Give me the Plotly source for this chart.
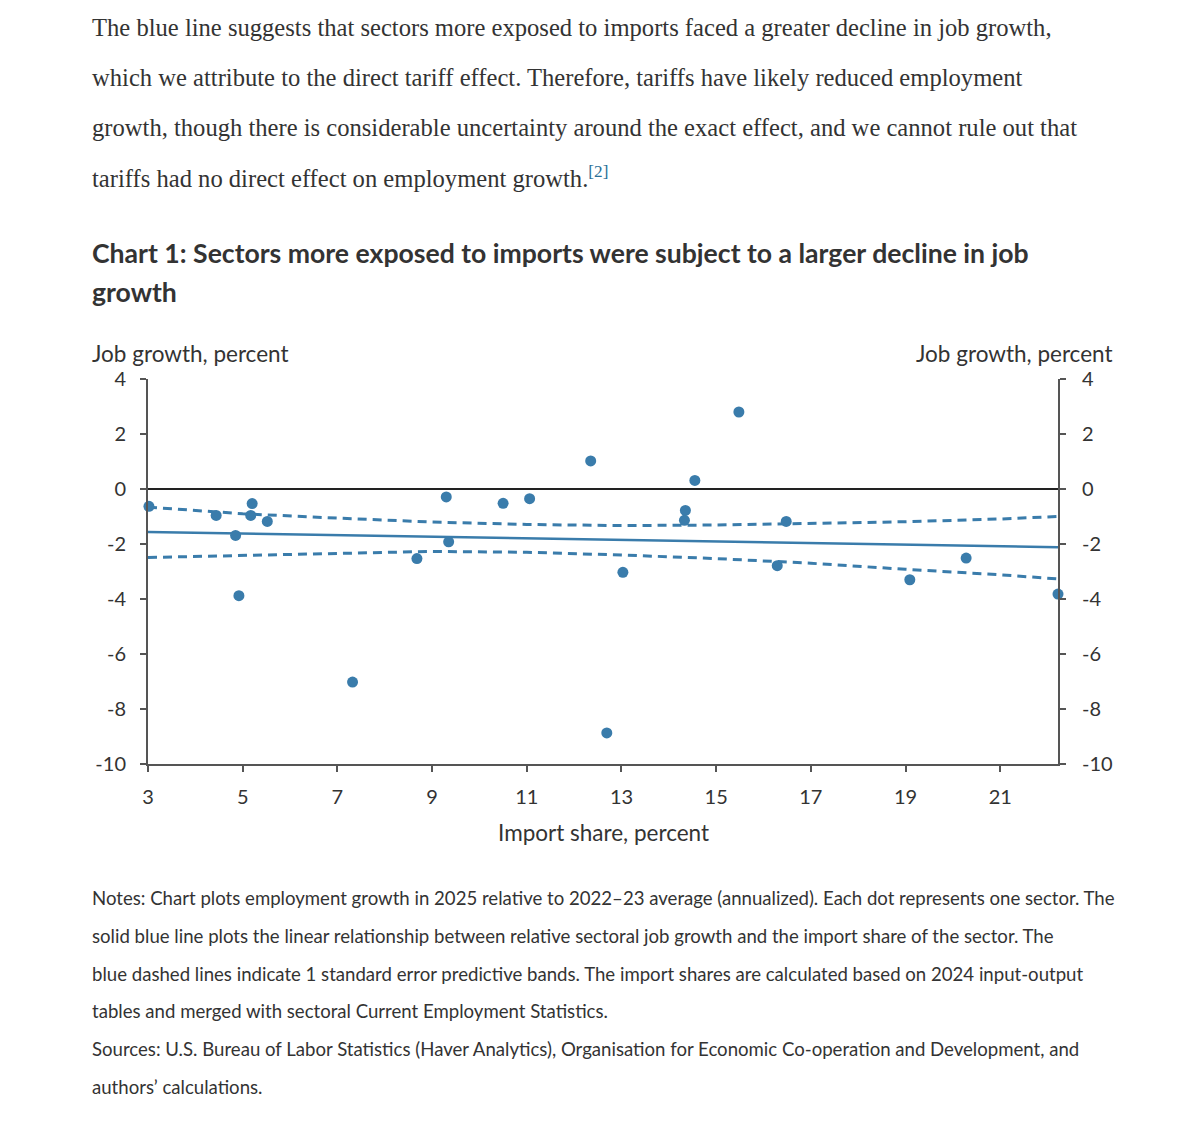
import plotly.graph_objects as go

# ---- data ----
import_share = [3.02, 4.44, 4.85, 4.92, 5.17, 5.20, 5.52, 7.32, 8.68, 9.30, 9.35,
                10.50, 11.06, 12.35, 12.69, 13.03, 14.33, 14.35, 14.55, 15.48,
                16.29, 16.48, 19.09, 20.28, 22.22]
job_growth = [-0.63, -0.96, -1.69, -3.88, -0.96, -0.53, -1.18, -7.02, -2.53, -0.29, -1.92,
              -0.52, -0.35, 1.02, -8.87, -3.03, -1.14, -0.78, 0.31, 2.80,
              -2.79, -1.18, -3.30, -2.51, -3.82]

fit_x = [3, 22.22]
fit_y = [-1.56, -2.12]

band_x = [3, 5, 7, 9, 11, 13, 15, 17, 19, 21, 22.22]
band_upper = [-0.66, -0.90, -1.06, -1.20, -1.29, -1.33, -1.31, -1.26, -1.19, -1.09, -1.00]
band_lower = [-2.49, -2.41, -2.34, -2.27, -2.30, -2.40, -2.53, -2.70, -2.92, -3.12, -3.27]

x_ticks = [3, 5, 7, 9, 11, 13, 15, 17, 19, 21]
y_ticks = [-10, -8, -6, -4, -2, 0, 2, 4]
y_tick_text = ["-10", "-8", "-6", "-4", "-2", "0", "2", "4"]

paragraph = [
    "The blue line suggests that sectors more exposed to imports faced a greater decline in job growth,",
    "which we attribute to the direct tariff effect. Therefore, tariffs have likely reduced employment",
    "growth, though there is considerable uncertainty around the exact effect, and we cannot rule out that",
    "tariffs had no direct effect on employment growth.<sup><span style='color:#2a6f97'>[2]</span></sup>",
]
title_lines = [
    "Chart 1: Sectors more exposed to imports were subject to a larger decline in job",
    "growth",
]
notes = [
    "Notes: Chart plots employment growth in 2025 relative to 2022–23 average (annualized). Each dot represents one sector. The",
    "solid blue line plots the linear relationship between relative sectoral job growth and the import share of the sector. The",
    "blue dashed lines indicate 1 standard error predictive bands. The import shares are calculated based on 2024 input-output",
    "tables and merged with sectoral Current Employment Statistics.",
    "Sources: U.S. Bureau of Labor Statistics (Haver Analytics), Organisation for Economic Co-operation and Development, and",
    "authors’ calculations.",
]

# ---- layout geometry (page has an 8px body margin) ----
OFF = 8
W, H = 1200, 1122
L, T = 148 - OFF, 379 - OFF
R = W - (1058 - OFF)
B = H - (764 - OFF)
PW, PH = W - L - R, H - T - B

def px(x):
    return (x - OFF - L) / PW

def py(y):
    return 1 - (y - OFF - T) / PH

BLUE = "#3a7cab"
TXT = "#333333"

fig = go.Figure()

fig.add_trace(go.Scatter(x=band_x, y=band_upper, mode="lines",
                         line=dict(color=BLUE, width=3, dash="9px,6px"),
                         hoverinfo="skip", showlegend=False, cliponaxis=False))
fig.add_trace(go.Scatter(x=band_x, y=band_lower, mode="lines",
                         line=dict(color=BLUE, width=3, dash="9px,6px"),
                         hoverinfo="skip", showlegend=False, cliponaxis=False))
fig.add_trace(go.Scatter(x=fit_x, y=fit_y, mode="lines",
                         line=dict(color=BLUE, width=2.5),
                         hoverinfo="skip", showlegend=False, cliponaxis=False))
fig.add_trace(go.Scatter(x=import_share, y=job_growth, mode="markers",
                         marker=dict(color=BLUE, size=11),
                         showlegend=False, cliponaxis=False))
# invisible trace for right axis
fig.add_trace(go.Scatter(x=[3], y=[0], yaxis="y2", mode="markers",
                         marker=dict(opacity=0), hoverinfo="skip", showlegend=False))

tickfont = dict(family="Lato, 'Liberation Sans', sans-serif", size=20, color=TXT)
axis_common = dict(showgrid=False, showline=True, linecolor="#555555", linewidth=2,
                   ticks="outside", ticklen=6, tickwidth=1.5, tickcolor="#555555",
                   tickfont=tickfont)

fig.update_layout(
    width=W, height=H,
    margin=dict(l=L, r=R, t=T, b=B),
    paper_bgcolor="white", plot_bgcolor="white",
    xaxis=dict(range=[3, 22.22], tickvals=x_ticks, zeroline=False,
               ticklabelstandoff=8, **axis_common),
    yaxis=dict(range=[-10, 4], tickvals=y_ticks, ticktext=y_tick_text,
               zeroline=True, zerolinecolor="#222222", zerolinewidth=1.5,
               ticklabelstandoff=10, **axis_common),
    yaxis2=dict(range=[-10, 4], tickvals=y_ticks, ticktext=y_tick_text,
                overlaying="y", side="right", zeroline=False,
                ticklabelstandoff=12, **axis_common),
)

ann = []
serif = "'Liberation Serif', 'DejaVu Serif', serif"
for i, line in enumerate(paragraph):
    ann.append(dict(text=line, x=px(90), y=py(27 + 50 * i), xanchor="left", yanchor="middle",
                    font=dict(family=serif, size=24.6, color=TXT)))
for i, line in enumerate(title_lines):
    ann.append(dict(text="<b>" + line + "</b>", x=px(90), y=py(253 + 39 * i), xanchor="left",
                    yanchor="middle",
                    font=dict(family="Lato, 'Noto Sans', sans-serif", size=26.6, color=TXT)))
lab_font = dict(family="Lato, 'Liberation Sans', sans-serif", size=22.5, color=TXT)
ann.append(dict(text="Job growth, percent", x=px(90), y=py(353), xanchor="left",
                yanchor="middle", font=lab_font))
ann.append(dict(text="Job growth, percent", x=px(1115), y=py(353), xanchor="right",
                yanchor="middle", font=lab_font))
ann.append(dict(text="Import share, percent", x=px(603), y=py(832), xanchor="center",
                yanchor="middle", font=lab_font))
note_font = dict(family="Lato, 'Liberation Sans', sans-serif", size=18.6, color=TXT)
for i, line in enumerate(notes):
    ann.append(dict(text=line, x=px(90), y=py(898 + 37.8 * i), xanchor="left",
                    yanchor="middle", font=note_font))

for a in ann:
    a.update(xref="paper", yref="paper", showarrow=False)
fig.update_layout(annotations=ann)

fig.write_html("out.html")
